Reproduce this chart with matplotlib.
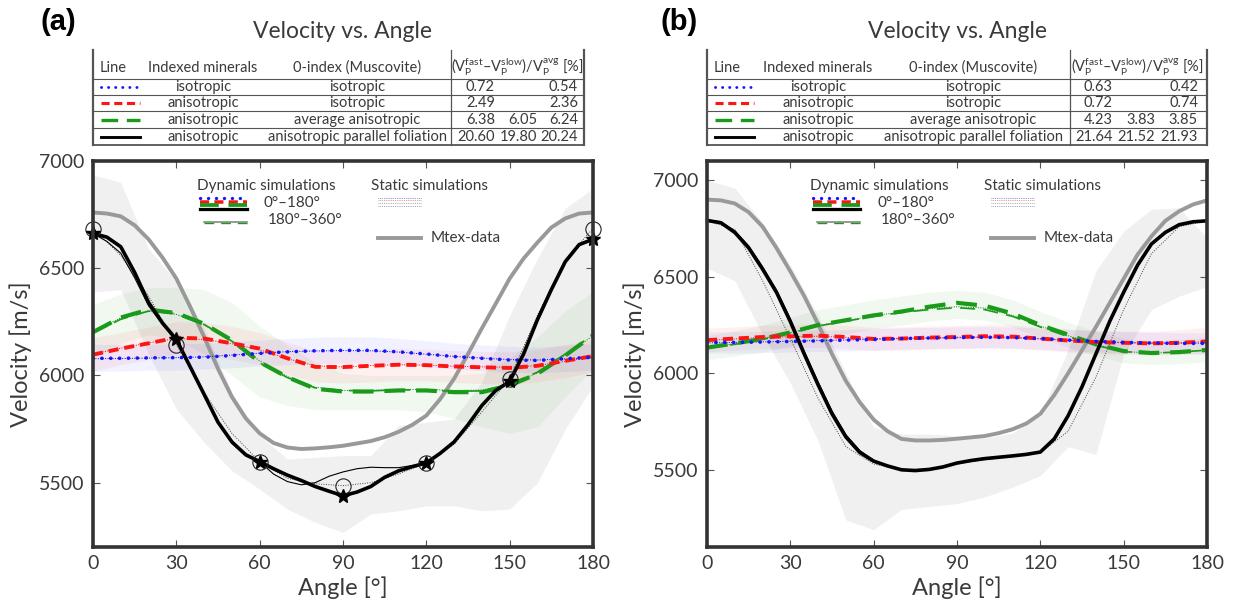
import matplotlib
matplotlib.use("Agg")
import matplotlib.pyplot as plt
from matplotlib.lines import Line2D

plt.rcParams['font.family'] = ['Lato', 'DejaVu Sans']
plt.rcParams['mathtext.fontset'] = 'custom'
plt.rcParams['mathtext.rm'] = 'Lato'
plt.rcParams['mathtext.it'] = 'Lato:italic'

W, H = 1233, 604

######### DATA #########

ang5 = [0, 5, 10, 15, 20, 25, 30, 35, 40, 45, 50, 55, 60, 65, 70, 75, 80, 85, 90,
        95, 100, 105, 110, 115, 120, 125, 130, 135, 140, 145, 150, 155, 160, 165, 170, 175, 180]
ang10 = [0, 10, 20, 30, 40, 50, 60, 70, 80, 90, 100, 110, 120, 130, 140, 150, 160, 170, 180]
mark_ang = [0, 30, 60, 90, 120, 150, 180]
xtick_vals = [0, 30, 60, 90, 120, 150, 180]
ytick_vals = [5500, 6000, 6500, 7000]

# panel (a)
a_mtex = [6760, 6755, 6742, 6700, 6635, 6550, 6452, 6320, 6180, 6031, 5900, 5800, 5730, 5685, 5664, 5657, 5660, 5665, 5672,
          5683, 5694, 5712, 5737, 5770, 5813, 5890, 5985, 6100, 6220, 6335, 6452, 6545, 6620, 6690, 6732, 6755, 6760]
a_black_dyn = [6662, 6645, 6600, 6480, 6340, 6245, 6168, 6040, 5912, 5782, 5690, 5630, 5598, 5565, 5535, 5510, 5482, 5460, 5439,
               5456, 5482, 5525, 5555, 5575, 5592, 5637, 5690, 5770, 5860, 5930, 5972, 6100, 6260, 6400, 6530, 6610, 6635]
a_black_thin = [6662, 6625, 6570, 6455, 6325, 6238, 6160, 6035, 5905, 5780, 5685, 5625, 5598, 5540, 5505, 5490, 5500, 5530, 5550,
                5565, 5572, 5570, 5570, 5580, 5592, 5635, 5690, 5770, 5860, 5930, 5975, 6105, 6265, 6405, 6535, 6612, 6640]
a_black_static = [6685, 6560, 6370, 6143, 5920, 5730, 5598, 5520, 5495, 5486, 5500, 5540, 5592, 5680, 5830, 5985, 6280, 6540, 6685]
a_blue_dyn = [6080, 6080, 6082, 6083, 6085, 6093, 6103, 6110, 6115, 6117, 6117, 6110, 6100, 6088, 6080, 6072, 6070, 6078, 6085]
a_blue_static = [6078, 6079, 6081, 6083, 6087, 6095, 6104, 6111, 6114, 6116, 6115, 6109, 6099, 6089, 6081, 6074, 6072, 6077, 6083]
a_red_dyn = [6097, 6125, 6150, 6176, 6172, 6150, 6125, 6080, 6040, 6039, 6045, 6050, 6048, 6042, 6038, 6035, 6045, 6068, 6090]
a_red_static = [6100, 6127, 6152, 6172, 6168, 6148, 6120, 6078, 6045, 6040, 6046, 6050, 6048, 6043, 6040, 6038, 6046, 6066, 6088]
a_green_dyn = [6202, 6270, 6307, 6291, 6241, 6164, 6062, 5992, 5938, 5925, 5925, 5930, 5930, 5922, 5922, 5953, 6008, 6093, 6187]
a_green_thin = [6198, 6262, 6300, 6288, 6238, 6160, 6058, 5990, 5942, 5930, 5928, 5933, 5932, 5926, 5928, 5960, 6015, 6100, 6190]
a_green_static = [6205, 6268, 6302, 6285, 6235, 6160, 6068, 5995, 5945, 5930, 5930, 5935, 5935, 5930, 5932, 5956, 6012, 6095, 6185]
a_gray_lo = [6390, 6400, 6100, 5844, 5688, 5556, 5470, 5377, 5315, 5268, 5354, 5369, 5392, 5392, 5369, 5377, 5500, 5750, 5950]
a_gray_hi = [6935, 6900, 6590, 6440, 6220, 5920, 5720, 5610, 5618, 5626, 5626, 5766, 5782, 5797, 5969, 6280, 6545, 6779, 6872]
a_green_lo = [6080, 6150, 6190, 6170, 6100, 6000, 5900, 5860, 5840, 5840, 5840, 5840, 5830, 5800, 5760, 5730, 5760, 5900, 6030]
a_green_hi = [6330, 6380, 6410, 6410, 6400, 6340, 6230, 6140, 6060, 6010, 6000, 6000, 6000, 6000, 6010, 6080, 6180, 6300, 6390]
a_red_lo = [6020, 6050, 6075, 6100, 6095, 6075, 6050, 6005, 5970, 5965, 5970, 5975, 5975, 5968, 5962, 5960, 5970, 5990, 6015]
a_red_hi = [6175, 6200, 6225, 6250, 6248, 6228, 6200, 6155, 6115, 6112, 6118, 6125, 6122, 6116, 6112, 6110, 6120, 6145, 6165]
a_blue_lo = [6020, 6020, 6025, 6025, 6030, 6035, 6045, 6050, 6055, 6058, 6058, 6052, 6042, 6030, 6022, 6015, 6012, 6018, 6025]
a_blue_hi = [6145, 6145, 6145, 6148, 6150, 6158, 6165, 6172, 6178, 6180, 6180, 6172, 6162, 6150, 6142, 6135, 6132, 6140, 6148]
a_circle = [6685, 6143, 5598, 5486, 5592, 5985, 6685]
a_star = [6662, 6168, 5598, 5439, 5592, 5972, 6635]

# panel (b)
b_mtex = [6900, 6896, 6880, 6835, 6760, 6650, 6528, 6400, 6255, 6100, 5960, 5850, 5760, 5700, 5660, 5652, 5652, 5655, 5661,
          5668, 5675, 5690, 5710, 5740, 5790, 5887, 6000, 6120, 6240, 6365, 6490, 6615, 6710, 6790, 6840, 6875, 6896]
b_black_dyn = [6792, 6780, 6730, 6650, 6540, 6420, 6268, 6100, 5940, 5790, 5670, 5590, 5545, 5520, 5500, 5496, 5502, 5515, 5535,
               5548, 5558, 5565, 5572, 5580, 5592, 5660, 5780, 5930, 6100, 6270, 6420, 6560, 6670, 6730, 6770, 6785, 6790]
b_black_thin = [6795, 6785, 6738, 6660, 6552, 6432, 6282, 6115, 5955, 5805, 5682, 5600, 5550, 5522, 5502, 5498, 5504, 5517, 5537,
                5550, 5560, 5567, 5574, 5582, 5594, 5662, 5783, 5933, 6103, 6273, 6423, 6562, 6672, 6732, 6772, 6787, 6792]
b_black_static = [6790, 6745, 6480, 6180, 5870, 5620, 5530, 5500, 5505, 5530, 5552, 5570, 5588, 5700, 5980, 6330, 6620, 6760, 6790]
b_blue_dyn = [6160, 6160, 6162, 6165, 6168, 6172, 6175, 6180, 6183, 6185, 6187, 6185, 6180, 6172, 6165, 6160, 6157, 6155, 6155]
b_blue_static = [6158, 6160, 6163, 6166, 6170, 6173, 6176, 6180, 6182, 6184, 6185, 6183, 6178, 6171, 6164, 6160, 6157, 6156, 6156]
b_red_dyn = [6172, 6180, 6188, 6192, 6195, 6188, 6178, 6180, 6185, 6188, 6192, 6190, 6180, 6170, 6162, 6158, 6155, 6158, 6165]
b_red_static = [6170, 6178, 6186, 6190, 6192, 6186, 6180, 6181, 6184, 6187, 6190, 6188, 6180, 6171, 6163, 6158, 6156, 6159, 6164]
b_green_dyn = [6133, 6155, 6178, 6212, 6250, 6275, 6300, 6320, 6345, 6365, 6350, 6310, 6250, 6200, 6150, 6115, 6105, 6110, 6121]
b_green_thin = [6130, 6150, 6175, 6208, 6245, 6270, 6295, 6315, 6330, 6340, 6330, 6295, 6240, 6190, 6145, 6112, 6105, 6110, 6120]
b_green_static = [6132, 6153, 6177, 6210, 6248, 6272, 6298, 6318, 6335, 6345, 6338, 6300, 6245, 6195, 6148, 6113, 6105, 6110, 6121]
b_gray_lo = [6545, 6480, 6200, 5950, 5650, 5240, 5190, 5295, 5310, 5325, 5360, 5410, 5470, 5620, 5580, 6100, 6330, 6400, 6450]
b_gray_hi = [7000, 6960, 6780, 6560, 6300, 6000, 5720, 5685, 5685, 5675, 5665, 5690, 5790, 6120, 6530, 6736, 6850, 6858, 6700]
b_green_lo = [6070, 6090, 6110, 6140, 6180, 6205, 6230, 6250, 6270, 6285, 6275, 6240, 6185, 6135, 6090, 6055, 6045, 6050, 6060]
b_green_hi = [6195, 6220, 6250, 6290, 6330, 6355, 6380, 6400, 6420, 6430, 6420, 6380, 6320, 6265, 6215, 6180, 6170, 6175, 6185]
b_red_lo = [6112, 6120, 6128, 6132, 6135, 6128, 6118, 6120, 6125, 6128, 6132, 6130, 6120, 6110, 6102, 6098, 6095, 6098, 6105]
b_red_hi = [6235, 6240, 6248, 6252, 6255, 6248, 6238, 6240, 6245, 6248, 6252, 6250, 6240, 6230, 6222, 6218, 6218, 6225, 6240]
b_blue_lo = [6105, 6105, 6107, 6110, 6113, 6117, 6120, 6125, 6128, 6130, 6132, 6130, 6125, 6117, 6110, 6105, 6102, 6100, 6100]
b_blue_hi = [6215, 6215, 6217, 6220, 6223, 6227, 6230, 6235, 6238, 6240, 6242, 6240, 6235, 6227, 6220, 6215, 6212, 6210, 6210]

# table text
indexed_minerals = ['isotropic', 'anisotropic', 'anisotropic', 'anisotropic']
zero_index = ['isotropic', 'isotropic', 'average anisotropic', 'anisotropic parallel foliation']
a_aniso = [['0.72', '', '0.54'], ['2.49', '', '2.36'], ['6.38', '6.05', '6.24'], ['20.60', '19.80', '20.24']]
b_aniso = [['0.63', '', '0.42'], ['0.72', '', '0.74'], ['4.23', '3.83', '3.85'], ['21.64', '21.52', '21.93']]

######### STYLES #########

sty_blue = dict(color='#1414ff', lw=2.6, ls=(0, (0.05, 2.4)), dash_capstyle='round')
sty_red = dict(color='#ff1414', lw=2.8, ls=(0, (2.6, 1.5)))
sty_green = dict(color='#1a9a1a', lw=3.0, ls=(0, (5, 2.6)))
sty_black = dict(color='black', lw=2.6)
row_styles = [sty_blue, sty_red, sty_green, sty_black]
txt_col = '#3a3a3a'


def fx(px):
    return px / W


def fy(py):
    return 1 - py / H


def draw_panel(ax, d, ylim):
    ax.fill_between(ang10, d['gray_lo'], d['gray_hi'], color='#f0f0f0', lw=0, zorder=0)
    ax.fill_between(ang10, d['green_lo'], d['green_hi'], color='#2ca02c', alpha=0.07, lw=0, zorder=1)
    ax.fill_between(ang10, d['red_lo'], d['red_hi'], color='#ff3030', alpha=0.07, lw=0, zorder=1)
    ax.fill_between(ang10, d['blue_lo'], d['blue_hi'], color='#4040ff', alpha=0.07, lw=0, zorder=1)

    ax.plot(ang5, d['mtex'], color='#999999', lw=2.8, zorder=2)

    # static simulations
    ax.plot(ang10, d['blue_static'], color='blue', lw=0.7, ls=(0, (1, 1.5)), zorder=3)
    ax.plot(ang10, d['red_static'], color='red', lw=0.7, ls=(0, (1, 1.5)), zorder=3)
    ax.plot(ang10, d['green_static'], color='green', lw=0.7, ls=(0, (1, 1.5)), zorder=3)
    ax.plot(ang10, d['black_static'], color='#444444', lw=0.7, ls=(0, (1, 1.5)), zorder=3)

    # dynamic simulations 180-360
    ax.plot(ang10, d['green_thin'], color='#1a9a1a', lw=1.2, ls=(0, (9, 5)), zorder=4)
    ax.plot(ang5, d['black_thin'], color='black', lw=0.8, zorder=4)

    # dynamic simulations 0-180
    ax.plot(ang10, d['green_dyn'], zorder=5, **sty_green)
    ax.plot(ang10, d['red_dyn'], zorder=5, **sty_red)
    ax.plot(ang10, d['blue_dyn'], zorder=6, **sty_blue)
    ax.plot(ang5, d['black_dyn'], zorder=6, **sty_black)

    ax.set_xlim(0, 180)
    ax.set_ylim(*ylim)
    ax.set_xticks(xtick_vals)
    ax.set_yticks(ytick_vals)
    ax.tick_params(direction='in', top=True, right=True, length=5, width=0.8,
                   color='#555555', labelsize=14, labelcolor=txt_col, pad=6)
    for s in ax.spines.values():
        s.set_linewidth(2.6)
        s.set_color('#333333')
        s.set_zorder(10)
    ax.set_xlabel('Angle [°]', fontsize=17, color=txt_col, labelpad=3)
    ax.set_ylabel('Velocity [m/s]', fontsize=17, color=txt_col, labelpad=5)


def draw_legend(ax, x0):
    T = ax.transAxes
    fs = 11
    ax.text(x0 + 0.133, 0.934, 'Dynamic simulations', transform=T, ha='center', va='center',
            fontsize=fs, color=txt_col)
    for yy, st in zip([0.905, 0.895, 0.885, 0.875], row_styles):
        kw = dict(st)
        kw['lw'] = kw['lw'] * 0.9
        ax.plot([x0, x0 + 0.094], [yy, yy], transform=T, clip_on=False, zorder=11, **kw)
    ax.text(x0 + 0.128, 0.89, '0°–180°', transform=T, ha='left', va='center', fontsize=fs, color=txt_col)
    ax.plot([x0 + 0.008, x0 + 0.094], [0.842, 0.842], transform=T, color='#888888', lw=1.2, zorder=11)
    ax.plot([x0 + 0.008, x0 + 0.094], [0.840, 0.840], transform=T, color='#1a9a1a', lw=1.0,
            ls=(0, (7, 5)), zorder=11)
    ax.text(x0 + 0.136, 0.847, '180°–360°', transform=T, ha='left', va='center', fontsize=fs, color=txt_col)

    sx = x0 + 0.355
    ax.text(sx - 0.012, 0.936, 'Static simulations', transform=T, ha='left', va='center',
            fontsize=fs, color=txt_col)
    for yy, c in zip([0.905, 0.898, 0.891, 0.884], ['blue', 'red', 'green', '#3a3a8a']):
        ax.plot([sx, sx + 0.087], [yy, yy], transform=T, color=c, lw=0.6, ls=(0, (1, 1.2)),
                alpha=0.6, zorder=11)
    ax.plot([sx, sx + 0.087], [0.80, 0.80], transform=T, color='#999999', lw=2.8, zorder=11)
    ax.text(sx + 0.107, 0.80, 'Mtex-data', transform=T, ha='left', va='center', fontsize=fs, color=txt_col)


def draw_table(fig, x0, x1, xmid, cols, aniso):
    # cols: Line, Indexed minerals, 0-index, header, number right edges (3)
    tf = fig.transFigure
    top, hlines = 50, [79, 94.5, 111, 128, 145]
    for xx, lw in [(x0, 1.6), (xmid, 0.9), (x1, 1.6)]:
        fig.add_artist(Line2D([fx(xx), fx(xx)], [fy(top), fy(145)], transform=tf, color='#555555', lw=lw))
    for yy in hlines:
        fig.add_artist(Line2D([fx(x0), fx(x1)], [fy(yy), fy(yy)], transform=tf, color='#555555',
                              lw=1.3 if yy == 145 else 0.8))
    fs = 10.5
    hy = 68
    fig.text(fx(cols[0]), fy(hy), 'Line', ha='center', va='center', fontsize=fs, color=txt_col)
    fig.text(fx(cols[1]), fy(hy), 'Indexed minerals', ha='center', va='center', fontsize=fs, color=txt_col)
    fig.text(fx(cols[2]), fy(hy), '0-index (Muscovite)', ha='center', va='center', fontsize=fs, color=txt_col)
    fig.text(fx(cols[3]), fy(hy - 1),
             r'$(\mathrm{V}_\mathrm{P}^\mathrm{fast}$–$\mathrm{V}_\mathrm{P}^\mathrm{slow})/\mathrm{V}_\mathrm{P}^\mathrm{avg}$ [%]',
             ha='center', va='center', fontsize=fs, color=txt_col)
    row_y = [87, 103, 120, 137]
    for i, yy in enumerate(row_y):
        kw = dict(row_styles[i])
        kw['lw'] = kw['lw'] * 0.8
        fig.add_artist(Line2D([fx(x0 + 8), fx(x0 + 47)], [fy(yy), fy(yy)], transform=tf, **kw))
        fig.text(fx(cols[1]), fy(yy), indexed_minerals[i], ha='center', va='center', fontsize=fs, color=txt_col)
        fig.text(fx(cols[2]), fy(yy), zero_index[i], ha='center', va='center', fontsize=fs, color=txt_col)
        for j in range(3):
            fig.text(fx(cols[4 + j]), fy(yy), aniso[i][j], ha='right', va='center', fontsize=fs, color=txt_col)


panel_a = dict(mtex=a_mtex, black_dyn=a_black_dyn, black_thin=a_black_thin, black_static=a_black_static,
               blue_dyn=a_blue_dyn, blue_static=a_blue_static, red_dyn=a_red_dyn, red_static=a_red_static,
               green_dyn=a_green_dyn, green_thin=a_green_thin, green_static=a_green_static,
               gray_lo=a_gray_lo, gray_hi=a_gray_hi, green_lo=a_green_lo, green_hi=a_green_hi,
               red_lo=a_red_lo, red_hi=a_red_hi, blue_lo=a_blue_lo, blue_hi=a_blue_hi)
panel_b = dict(mtex=b_mtex, black_dyn=b_black_dyn, black_thin=b_black_thin, black_static=b_black_static,
               blue_dyn=b_blue_dyn, blue_static=b_blue_static, red_dyn=b_red_dyn, red_static=b_red_static,
               green_dyn=b_green_dyn, green_thin=b_green_thin, green_static=b_green_static,
               gray_lo=b_gray_lo, gray_hi=b_gray_hi, green_lo=b_green_lo, green_hi=b_green_hi,
               red_lo=b_red_lo, red_hi=b_red_hi, blue_lo=b_blue_lo, blue_hi=b_blue_hi)

fig = plt.figure(figsize=(W / 100, H / 100), dpi=100)
ax_a = fig.add_axes([fx(93), fy(547), 500 / W, 386 / H])
ax_b = fig.add_axes([fx(707), fy(547), 500 / W, 386 / H])

draw_panel(ax_a, panel_a, (5200, 7000))
ax_a.plot(mark_ang, a_circle, 'o', mfc='none', mec='#222222', ms=11, mew=0.8, clip_on=False, zorder=8)
ax_a.plot(mark_ang, a_star, '*', color='black', ms=10, clip_on=False, zorder=9)
draw_legend(ax_a, 0.214)

draw_panel(ax_b, panel_b, (5100, 7100))
draw_legend(ax_b, 0.212)

draw_table(fig, 93, 584, 451, [113, 203, 357, 517, 495, 537, 578], a_aniso)
draw_table(fig, 707, 1207, 1070, [727, 818, 973, 1137, 1113, 1155, 1198], b_aniso)

for cx, lab, lx in [(343, '(a)', 40), (957, '(b)', 660)]:
    fig.text(fx(cx), fy(32), 'Velocity vs. Angle', ha='center', va='center', fontsize=16.5, color=txt_col)
    fig.text(fx(lx), fy(22), lab, ha='left', va='center', fontsize=21, fontweight='bold',
             family=['Liberation Sans', 'DejaVu Sans'], color='black')

plt.savefig('out.png', dpi=100)
plt.close()
